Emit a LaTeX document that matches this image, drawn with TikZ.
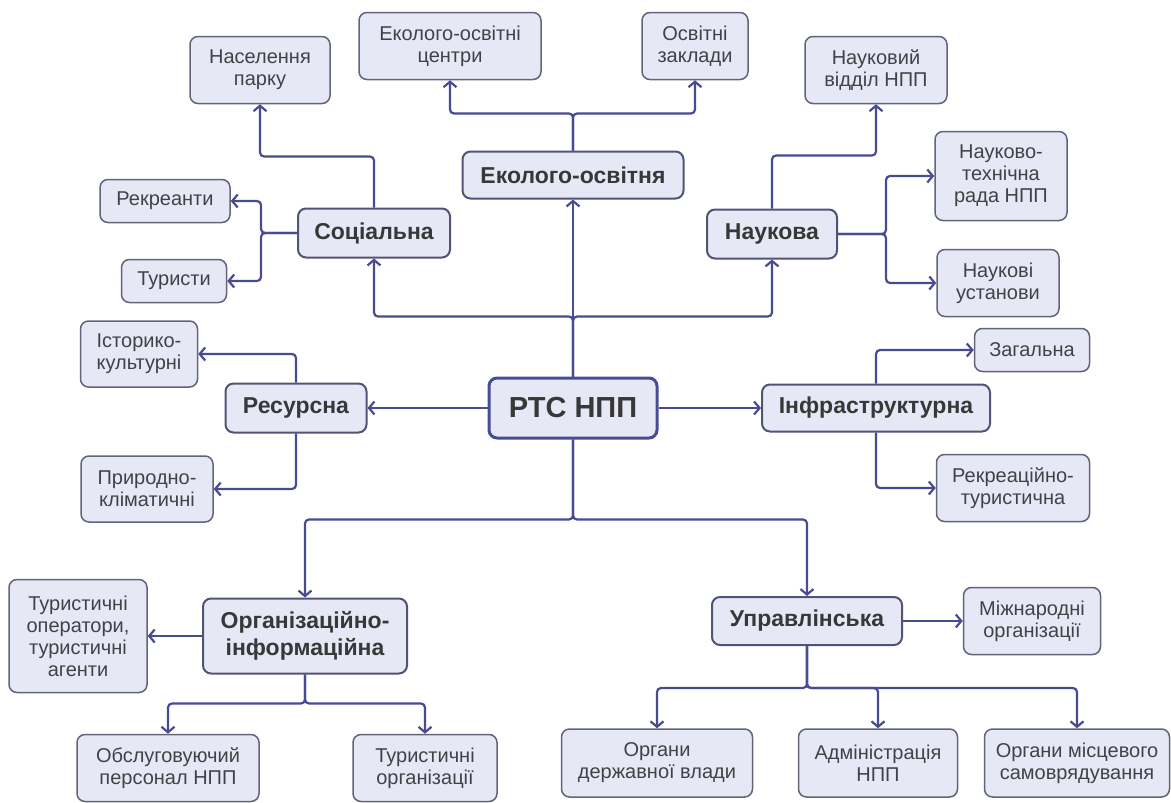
\documentclass[tikz,border=0pt]{standalone}
\usepackage{fontspec}
\setmainfont{Liberation Sans}
\usetikzlibrary{arrows.meta, positioning}

\definecolor{boxfill}{RGB}{231,232,246}
\definecolor{boxline}{RGB}{98,100,122}
\definecolor{catline}{RGB}{82,84,118}
\definecolor{rootline}{RGB}{72,76,150}
\definecolor{linkcol}{RGB}{72,74,146}
\definecolor{txtcol}{RGB}{66,66,70}

\begin{document}
\begin{tikzpicture}[x=1pt, y=-1pt,
    leaf/.style={rectangle, rounded corners=8pt, draw=boxline, fill=boxfill, line width=1.5pt, text=txtcol, align=center, inner sep=0pt, font=\fontsize{20}{22}\selectfont},
    branch/.style={leaf, draw=catline, line width=2pt, text=black!78, font=\fontsize{23}{27}\selectfont\bfseries},
    root/.style={branch, draw=rootline, line width=3pt, font=\fontsize{29}{32}\selectfont\bfseries},
    conn/.style={-{Straight Barb[length=5.5pt,width=13pt]}, draw=linkcol, line width=2.2pt, rounded corners=4pt}
  ]
    \path[fill=white] (0,0) rectangle (1171,803);
    \useasboundingbox (0,0) rectangle (1171,803);

    % Root
    \node[root, minimum width=168, minimum height=60] (rts) at (573,408) {РТС НПП};

    % Branches
    \node[branch, minimum width=221, minimum height=47] (eko) at (573,175) {Еколого-освітня};
    \node[branch, minimum width=152, minimum height=49] (soc) at (374,233) {Соціальна};
    \node[branch, minimum width=130, minimum height=49] (nauk) at (772,234) {Наукова};
    \node[branch, minimum width=141, minimum height=49] (res) at (296,408) {Ресурсна};
    \node[branch, minimum width=228, minimum height=47] (infra) at (876,408) {Інфраструктурна};
    \node[branch, minimum width=204, minimum height=75] (org) at (305,636) {Організаційно-\\інформаційна};
    \node[branch, minimum width=190, minimum height=48] (upr) at (807,621) {Управлінська};

    % Leaves
    \node[leaf, minimum width=140, minimum height=67] (nas) at (260,70) {Населення\\парку};
    \node[leaf, minimum width=182, minimum height=67] (ekc) at (450,46) {Еколого-освітні\\центри};
    \node[leaf, minimum width=106, minimum height=67] (osz) at (695,46) {Освітні\\заклади};
    \node[leaf, minimum width=142, minimum height=67] (vid) at (876,70) {Науковий\\відділ НПП};
    \node[leaf, minimum width=130, minimum height=43] (rek) at (165,201) {Рекреанти};
    \node[leaf, minimum width=105, minimum height=43] (tur) at (174,281) {Туристи};
    \node[leaf, minimum width=132, minimum height=89] (ntr) at (1001,176) {Науково-\\технічна\\рада НПП};
    \node[leaf, minimum width=122, minimum height=67] (nus) at (998,283) {Наукові\\установи};
    \node[leaf, minimum width=117, minimum height=66] (ist) at (139,354) {Історико-\\культурні};
    \node[leaf, minimum width=132, minimum height=66] (prk) at (147,489) {Природно-\\кліматичні};
    \node[leaf, minimum width=115, minimum height=43] (zag) at (1032,350) {Загальна};
    \node[leaf, minimum width=153, minimum height=67] (rtu) at (1013,488) {Рекреаційно-\\туристична};
    \node[leaf, minimum width=138, minimum height=113] (top) at (78,636) {Туристичні\\оператори,\\туристичні\\агенти};
    \node[leaf, minimum width=182, minimum height=67] (obs) at (168,768) {Обслуговуючий\\персонал НПП};
    \node[leaf, minimum width=144, minimum height=67] (tor) at (425,768) {Туристичні\\організації};
    \node[leaf, minimum width=137, minimum height=67] (mzh) at (1032,621) {Міжнародні\\організації};
    \node[leaf, minimum width=191, minimum height=68] (ogv) at (657,763) {Органи\\державної влади};
    \node[leaf, minimum width=159, minimum height=68] (adm) at (878,763) {Адміністрація\\НПП};
    \node[leaf, minimum width=185, minimum height=68] (oms) at (1077,763) {Органи місцевого\\самоврядування};

    % Connections from the root
    \draw[conn] (rts.north) -- (eko.south);
    \draw[conn] (rts.north) -- ++(0,-60) -| (soc.south);
    \draw[conn] (rts.north) -- ++(0,-60) -| (nauk.south);
    \draw[conn] (rts.west) -- (res.east);
    \draw[conn] (rts.east) -- (infra.west);
    \draw[conn] (rts.south) -- ++(0,80) -| (org.north);
    \draw[conn] (rts.south) -- ++(0,80) -| (upr.north);

    % Connections from the branches
    \draw[conn] (eko.north) -- ++(0,-37) -| (ekc.south);
    \draw[conn] (eko.north) -- ++(0,-37) -| (osz.south);
    \draw[conn] (soc.north) -- ++(0,-51) -| (nas.south);
    \draw[conn] (soc.west) -- ++(-36,0) |- (rek.east);
    \draw[conn] (soc.west) -- ++(-36,0) |- (tur.east);
    \draw[conn] (nauk.north) -- ++(0,-53) -| (vid.south);
    \draw[conn] (nauk.east) -- ++(48,0) |- (ntr.west);
    \draw[conn] (nauk.east) -- ++(48,0) |- (nus.west);
    \draw[conn] (res.north) |- (ist.east);
    \draw[conn] (res.south) |- (prk.east);
    \draw[conn] (infra.north) |- (zag.west);
    \draw[conn] (infra.south) |- (rtu.west);
    \draw[conn] (org.west) -- (top.east);
    \draw[conn] (org.south) -- ++(0,29) -| (obs.north);
    \draw[conn] (org.south) -- ++(0,29) -| (tor.north);
    \draw[conn] (upr.east) -- (mzh.west);
    \draw[conn] (upr.south) -- ++(0,42) -| (ogv.north);
    \draw[conn] (upr.south) -- ++(0,42) -| (adm.north);
    \draw[conn] (upr.south) -- ++(0,42) -| (oms.north);
\end{tikzpicture}
\end{document}
